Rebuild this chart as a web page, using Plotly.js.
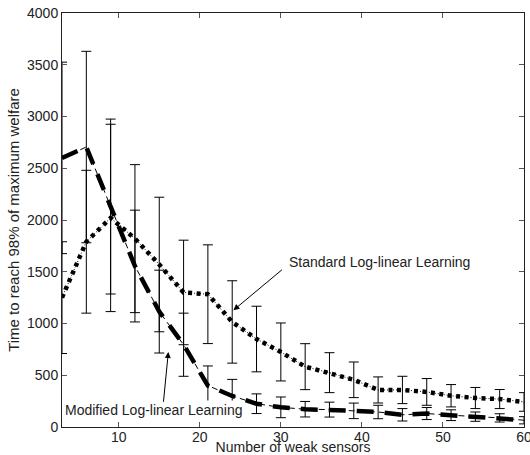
<!DOCTYPE html>
<html>
<head>
<meta charset="utf-8">
<script src="https://cdn.plot.ly/plotly-3.0.1.min.js"></script>
<style>html,body{margin:0;padding:0;background:#fff;}#chart{width:530px;height:455px;}</style>
</head>
<body>
<div id="chart"></div>
<script>
const sensors = [3, 6, 9, 12, 15, 18, 21, 24, 27, 30, 33, 36, 39, 42, 45, 48, 51, 54, 57, 60];
const standardTime = [1250, 1790, 2020, 1820, 1570, 1300, 1283, 1015, 850, 725, 583, 525, 456, 358, 358, 339, 302, 280, 270, 242];
const standardErr  = [540, 690, 905, 715, 650, 505, 477, 398, 317, 280, 222, 193, 172, 126, 132, 129, 108, 102, 92, 90];
const modifiedTime = [2600, 2705, 2130, 1555, 1115, 795, 400, 300, 225, 190, 172, 168, 156, 145, 118, 130, 114, 100, 88, 65];
const modifiedErr  = [925, 925, 845, 540, 400, 305, 190, 160, 95, 100, 75, 72, 75, 65, 60, 58, 52, 45, 40, 35];
const xTicks = [10, 20, 30, 40, 50, 60];
const yTicks = [0, 500, 1000, 1500, 2000, 2500, 3000, 3500, 4000];

const errStyle = (arr) => ({type: 'data', array: arr, visible: true, color: '#000', thickness: 1, width: 5});

const traces = [
  {x: sensors, y: modifiedTime, mode: 'lines', line: {color: '#000', width: 1, dash: '6px,4px'},
   error_y: errStyle(modifiedErr), hoverinfo: 'skip', showlegend: false},
  {x: sensors, y: standardTime, mode: 'lines', line: {color: '#000', width: 1, dash: '1px,2px'},
   error_y: errStyle(standardErr), hoverinfo: 'skip', showlegend: false},
  {x: sensors, y: modifiedTime, mode: 'lines', line: {color: '#000', width: 4.5, dash: '17px,11px'},
   hoverinfo: 'skip', showlegend: false},
  {x: sensors, y: standardTime, mode: 'lines', line: {color: '#000', width: 4.5, dash: '4px,4.5px'},
   hoverinfo: 'skip', showlegend: false}
];

const font = {family: 'Liberation Sans, Arial, sans-serif', size: 14, color: '#222'};

const layout = {
  width: 530, height: 455,
  margin: {l: 62, r: 6, t: 13, b: 28},
  paper_bgcolor: '#fff', plot_bgcolor: '#fff',
  font: font,
  showlegend: false,
  xaxis: {
    range: [3, 60], tickvals: xTicks, ticks: 'inside', ticklen: 5, tickcolor: '#555',
    showline: true, linecolor: '#222', linewidth: 1, mirror: 'ticks', showgrid: false, zeroline: false,
    title: {text: 'Number of weak sensors', font: font, standoff: 7},
    tickfont: font, automargin: false, ticklabeloverflow: 'allow', ticklabelstandoff: -3
  },
  yaxis: {
    range: [0, 4000], tickvals: yTicks, ticks: 'inside', ticklen: 5, tickcolor: '#555',
    showline: true, linecolor: '#222', linewidth: 1, mirror: 'ticks', showgrid: false, zeroline: false,
    title: {text: 'Time to reach 98% of maximum welfare', font: {family: font.family, size: 15, color: '#222'}, standoff: 3},
    tickfont: font, automargin: false
  },
  annotations: [
    {x: 30.8, y: 1592, xref: 'x', yref: 'y', text: 'Standard Log-linear Learning', showarrow: false,
     xanchor: 'left', yanchor: 'middle', font: font},
    {x: 24.15, y: 1128, ax: 30.32, ay: 1531, xref: 'x', yref: 'y', axref: 'x', ayref: 'y', text: '',
     showarrow: true, arrowhead: 2, arrowsize: 1.2, arrowwidth: 1, arrowcolor: '#000'},
    {x: 3.1, y: 161, xref: 'x', yref: 'y', text: 'Modified Log-linear Learning', showarrow: false,
     xanchor: 'left', yanchor: 'middle', font: font, bgcolor: '#fff', borderpad: 1},
    {x: 16.12, y: 725, ax: 15.5, ay: 229, xref: 'x', yref: 'y', axref: 'x', ayref: 'y', text: '',
     showarrow: true, arrowhead: 2, arrowsize: 1.2, arrowwidth: 1, arrowcolor: '#000'}
  ]
};

Plotly.newPlot('chart', traces, layout, {displayModeBar: false, staticPlot: true});
</script>
</body>
</html>
